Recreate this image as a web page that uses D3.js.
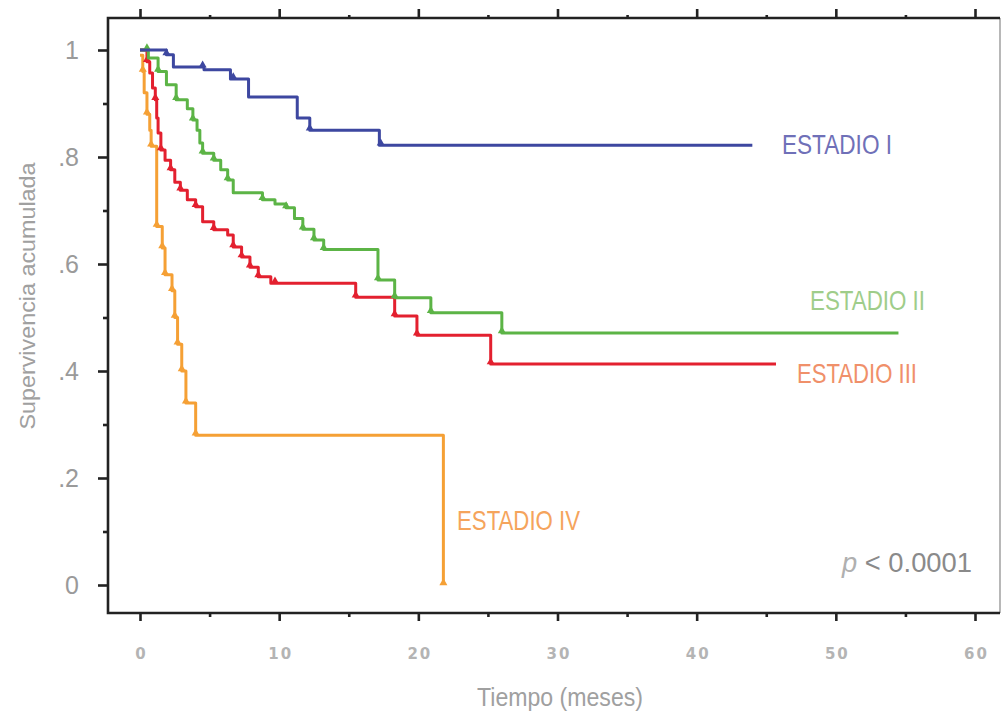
<!DOCTYPE html>
<html>
  <head>
    <meta charset="utf-8">
    <style type="text/css">
      body { margin: 0; background: #fff; }
      text { font-family: "Liberation Sans", Arial, sans-serif; }
    </style>
    <title>Supervivencia acumulada por estadio</title>
  </head>
  <body>
    <script src="https://cdn.jsdelivr.net/npm/d3@7"></script>
    <script>

/*========== Data ==========*/
// each step: [time in months, survival after the step]
const stepsI = [[0, 1.0], [1.9, 0.991], [2.4, 0.968], [4.6, 0.963], [6.5, 0.946], [7.8, 0.912],
                [11.3, 0.873], [12.2, 0.850], [17.2, 0.822]];
const stepsII = [[0, 1.0], [0.6, 0.985], [1.3, 0.96], [1.9, 0.935], [2.6, 0.907], [3.4, 0.89],
                 [3.8, 0.869], [4.1, 0.85], [4.3, 0.826], [4.5, 0.807], [5.3, 0.794], [5.8, 0.776],
                 [6.3, 0.757], [6.7, 0.733], [8.8, 0.72], [9.7, 0.712], [10.5, 0.705], [11.1, 0.685],
                 [11.7, 0.665], [12.5, 0.645], [13.2, 0.627], [17.1, 0.57], [18.3, 0.537],
                 [20.9, 0.509], [26.0, 0.471]];
const stepsIII = [[0, 1.0], [0.5, 0.978], [0.7, 0.957], [0.9, 0.929], [1.1, 0.907], [1.2, 0.873],
                  [1.3, 0.845], [1.5, 0.813], [1.8, 0.794], [2.2, 0.776], [2.5, 0.753], [2.9, 0.738],
                  [3.4, 0.72], [4.0, 0.707], [4.5, 0.679], [5.3, 0.664], [6.3, 0.654], [6.7, 0.632],
                  [7.3, 0.613], [7.9, 0.594], [8.5, 0.576], [9.4, 0.564], [15.5, 0.538],
                  [18.3, 0.503], [19.9, 0.467], [25.2, 0.413]];
const stepsIV = [[0, 0.99], [0.2, 0.96], [0.3, 0.92], [0.5, 0.88], [0.7, 0.85], [0.8, 0.82],
                 [1.2, 0.67], [1.6, 0.63], [1.8, 0.58], [2.3, 0.55], [2.5, 0.50], [2.7, 0.45],
                 [3.0, 0.40], [3.3, 0.34], [4.0, 0.28], [21.8, 0.0]];

// last follow-up time of each curve
const endTimes = [44, 54.5, 45.7, 21.8];

// censored observations (months)
const censorI = [1.9, 4.5, 6.7, 12.2, 17.3];
const censorII = [0.5, 1.3, 2.6, 3.8, 4.5, 5.3, 6.3, 8.8, 10.5, 11.7, 12.5, 13.2, 17.1, 18.3, 20.9, 26];
const censorIII = [0.5, 1.1, 1.5, 2.2, 2.9, 4.0, 5.3, 6.7, 7.3, 7.9, 8.5, 9.7, 15.5, 18.3, 19.9, 25.2];
const censorIV = [0.2, 0.5, 0.8, 1.2, 1.6, 1.8, 2.3, 2.5, 2.7, 3.0, 3.3, 4.0, 21.8];

const stageNames = ['ESTADIO I', 'ESTADIO II', 'ESTADIO III', 'ESTADIO IV'];
const lineColors = ['#3d47a0', '#5cb446', '#e3202f', '#f5a035'];
const labelColors = ['#6f70b8', '#9fcd8a', '#f0906a', '#f5a45c'];

const xTicks = [0, 10, 20, 30, 40, 50, 60];
const xMinor = [5, 15, 25, 35, 45, 55];
const yTicks = [0, 0.2, 0.4, 0.6, 0.8, 1];
const yMinor = [0.1, 0.3, 0.5, 0.7, 0.9];

/*========== Zones ==========*/
const W = 1005, H = 721;
const frame = {left: 108, right: 1000, top: 18, bottom: 613};

const svg = d3.select('body').append('svg')
    .attr('width', W)
    .attr('height', H);

const x = d3.scaleLinear().domain([0, 60]).range([140, 975]);
const y = d3.scaleLinear().domain([0, 1]).range([585, 50]);

// frame
svg.append('line').attr('x1', frame.right).attr('x2', frame.right)
    .attr('y1', frame.top).attr('y2', frame.bottom)
    .attr('stroke', '#888').attr('stroke-width', 1.2);
svg.append('path')
    .attr('d', `M${frame.right},${frame.top}H${frame.left}V${frame.bottom}H${frame.right}`)
    .attr('fill', 'none').attr('stroke', '#222').attr('stroke-width', 2.6);

// axes
function styleAxis(g) {
  g.select('.domain').remove();
  g.selectAll('line').attr('stroke', '#222').attr('stroke-width', 2.6);
}

svg.append('g')
    .attr('transform', `translate(0,${frame.bottom})`)
    .call(d3.axisBottom(x).tickValues(xTicks).tickSize(8).tickPadding(27))
    .call(styleAxis)
  .selectAll('text')
    .style('font-family', '"DejaVu Sans", sans-serif')
    .style('font-size', '15px')
    .style('font-weight', 'bold')
    .style('letter-spacing', '2px')
    .attr('dx', '1px')
    .attr('fill', '#b4b4b4');
svg.append('g')
    .attr('transform', `translate(0,${frame.bottom})`)
    .call(d3.axisBottom(x).tickValues(xMinor).tickSize(4).tickFormat(''))
    .call(styleAxis);

svg.append('g')
    .attr('transform', `translate(0,${frame.top})`)
    .call(d3.axisTop(x).tickValues(xTicks).tickSize(9).tickFormat(''))
    .call(styleAxis);
svg.append('g')
    .attr('transform', `translate(0,${frame.top})`)
    .call(d3.axisTop(x).tickValues(xMinor).tickSize(3).tickFormat(''))
    .call(styleAxis);

svg.append('g')
    .attr('transform', `translate(${frame.left},0)`)
    .call(d3.axisLeft(y).tickValues(yTicks).tickSize(10).tickPadding(19)
      .tickFormat(d => d === 0 ? '0' : d === 1 ? '1' : String(d).replace('0.', '.')))
    .call(styleAxis)
  .selectAll('text')
    .style('font-size', '25px')
    .attr('fill', '#9a9a9a');
svg.append('g')
    .attr('transform', `translate(${frame.left},0)`)
    .call(d3.axisLeft(y).tickValues(yMinor).tickSize(5).tickFormat(''))
    .call(styleAxis);

// axis titles (condensed type)
svg.append('text')
    .attr('transform', 'translate(35,296) rotate(-90)')
    .attr('text-anchor', 'middle')
    .attr('textLength', 267)
    .attr('lengthAdjust', 'spacingAndGlyphs')
    .style('font-size', '22px')
    .attr('fill', '#a0a0a0')
  .text('Supervivencia acumulada');

svg.append('text')
    .attr('x', 477)
    .attr('y', 706)
    .attr('textLength', 166)
    .attr('lengthAdjust', 'spacingAndGlyphs')
    .style('font-size', '25px')
    .attr('fill', '#a0a0a0')
  .text('Tiempo (meses)');

/*========== Curves ==========*/
const allSteps = [stepsI, stepsII, stepsIII, stepsIV];
const allCensor = [censorI, censorII, censorIII, censorIV];

const line = d3.line()
    .x(d => x(d[0]))
    .y(d => y(d[1]))
    .curve(d3.curveStepAfter);

function survAt(steps, t) {
  let s = steps[0][1];
  for (const st of steps) { if (st[0] <= t) s = st[1]; }
  return s;
}

// draw orange first, blue last
[3, 2, 1, 0].forEach(i => {
  const steps = allSteps[i];
  const last = steps[steps.length - 1];
  const pts = steps.concat(last[0] < endTimes[i] ? [[endTimes[i], last[1]]] : []);
  svg.append('path')
      .datum(pts)
      .attr('d', line)
      .attr('fill', 'none')
      .attr('stroke', lineColors[i])
      .attr('stroke-width', 3)
      .attr('stroke-linejoin', 'round');

  svg.selectAll(null)
      .data(allCensor[i])
      .enter()
      .append('path')
      .attr('d', d3.symbol(d3.symbolTriangle, 28))
      .attr('transform', d => `translate(${x(d)},${y(survAt(steps, d)) - 2})`)
      .attr('fill', lineColors[i]);
});

/*========== Labels ==========*/
// [x, baseline y, width]
const labelPos = [[782, 154, 110], [810, 310, 115], [797, 383, 120], [457, 530, 123]];
stageNames.forEach((name, i) => {
  svg.append('text')
      .attr('x', labelPos[i][0])
      .attr('y', labelPos[i][1])
      .attr('textLength', labelPos[i][2])
      .attr('lengthAdjust', 'spacingAndGlyphs')
      .style('font-size', '28px')
      .attr('fill', labelColors[i])
    .text(name);
});

const pText = svg.append('text')
    .attr('x', 842)
    .attr('y', 572)
    .attr('textLength', 130)
    .attr('lengthAdjust', 'spacingAndGlyphs')
    .style('font-size', '28px')
    .attr('fill', '#8a8a8a');
pText.append('tspan').style('font-style', 'italic').attr('fill', '#b0b0b0').text('p');
pText.append('tspan').text(' < 0.0001');

    </script>
  </body>
</html>
